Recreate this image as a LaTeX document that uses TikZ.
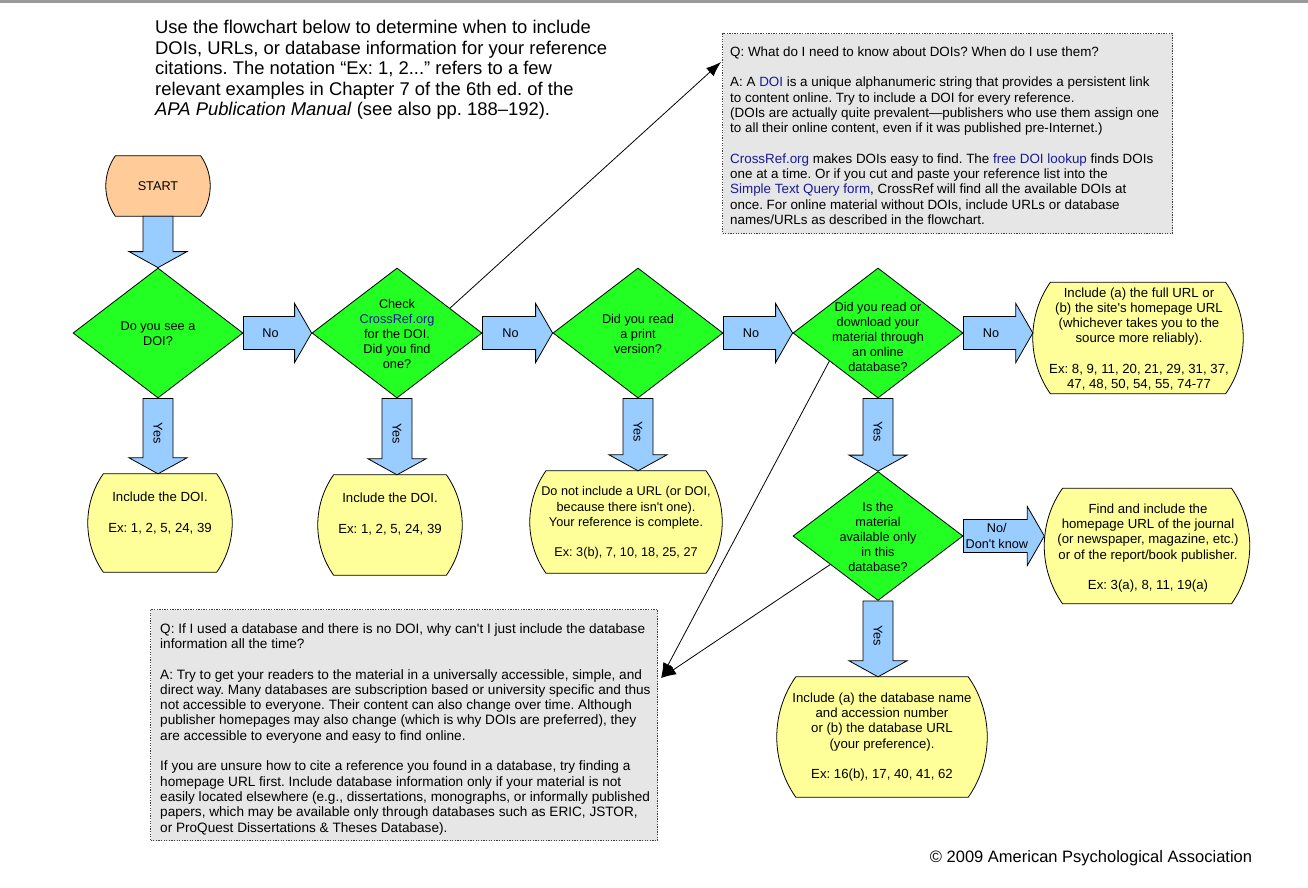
\documentclass[tikz,border=0pt]{standalone}
\usepackage{fontspec}
\setmainfont{Liberation Sans}
\usetikzlibrary{shapes.geometric,calc,arrows.meta}
\definecolor{greenD}{RGB}{35,255,35}
\definecolor{arrowblue}{RGB}{153,204,255}
\definecolor{yellowN}{RGB}{255,255,153}
\definecolor{orangeS}{RGB}{255,204,153}
\definecolor{boxgray}{RGB}{230,230,230}
\definecolor{linkblue}{RGB}{26,26,150}
\newcommand\aq{\textquotesingle}
\newcommand\lk[1]{{\color{linkblue}#1}}
\tikzset{
  dia/.style={diamond, draw=black, line width=0.8pt, fill=greenD, inner sep=0pt,
    minimum width=170pt, minimum height=130pt},
  term/.style={rectangle, draw=none, fill=none, inner sep=0pt},
  termline/.style={draw=black, line width=0.8pt, fill=yellowN},
  txt/.style={font=\fontsize{12.7}{15.2}\selectfont, align=center, inner sep=0pt},
  ytxt/.style={font=\fontsize{13.2}{15.2}\selectfont, align=center, inner sep=0pt},
  qbox/.style={draw=black!75, dash pattern=on 1.3pt off 1.3pt, line width=1.1pt,
    fill=boxgray, inner sep=0pt, anchor=north west},
  qtext/.style={align=left, inner sep=0pt, anchor=west},
  barrow/.style={fill=arrowblue, draw=black, line width=0.8pt, line join=miter},
  thinarrow/.style={draw=black, line width=0.8pt, -{Latex[length=15pt,width=11pt]}},
}
% bulging terminal outline drawn over the invisible rectangle node #1
\newcommand\TermPath[2]{%
  \path[termline,#2] let \p1=(#1.north west), \p2=(#1.south east), \n1={(\y1-\y2)/2} in
    ({\x1+0.315*\n1},\y1) -- ({\x2-0.315*\n1},\y1)
    .. controls ({\x2-0.315*\n1+0.421*\n1},{\y1-0.6*\n1}) and ({\x2-0.315*\n1+0.421*\n1},{\y2+0.6*\n1}) ..
    ({\x2-0.315*\n1},\y2) -- ({\x1+0.315*\n1},\y2)
    .. controls ({\x1+0.315*\n1-0.421*\n1},{\y2+0.6*\n1}) and ({\x1+0.315*\n1-0.421*\n1},{\y1-0.6*\n1}) ..
    ({\x1+0.315*\n1},\y1) -- cycle;
}
\newcommand\HArrow[4]{%
  \draw[barrow] let \p1=(#1), \p2=(#2) in
    (\x1,\y1+16.5pt) -- (\x2-17pt,\y1+16.5pt) -- (\x2-17pt,\y1+29.5pt) -- (\x2,\y1)
    -- (\x2-17pt,\y1-29.5pt) -- (\x2-17pt,\y1-16.5pt) -- (\x1,\y1-16.5pt) -- cycle;
  \path let \p1=(#1), \p2=(#2) in node[txt] (#4) at ({(\x1+\x2)/2-7pt},\y1) {#3};
}
\newcommand\VArrow[4]{%
  \draw[barrow] let \p1=(#1), \p2=(#2) in
    (\x1-15pt,\y1) -- (\x1-15pt,\y2+16pt) -- (\x1-29pt,\y2+16pt) -- (\x1,\y2)
    -- (\x1+29pt,\y2+16pt) -- (\x1+15pt,\y2+16pt) -- (\x1+15pt,\y1) -- cycle;
  \path let \p1=(#1), \p2=(#2) in node[txt, rotate=-90] (#4) at (\x1,{0.5*\y1+0.5*\y2+3pt}) {#3};
}
\frenchspacing
\begin{document}
\begin{tikzpicture}[x=1pt,y=-1pt]
\useasboundingbox (0,0) rectangle (1308,887);
\fill[white] (0,0) rectangle (1308,887);
\fill[black!40] (0,0) rectangle (1308,2.5);

% intro
\node[font=\fontsize{18.4}{20.4}\selectfont, align=left, inner sep=0pt, anchor=west] (intro) at (155,70)
 {Use the flowchart below to determine when to include\\
  DOIs, URLs, or database information for your reference\\
  citations. The notation “Ex: 1, 2...” refers to a few\\
  relevant examples in Chapter 7 of the 6th ed. of the\\
  \textit{APA Publication Manual} (see also pp. 188–192).};

% question boxes
\node[qbox, minimum width=450pt, minimum height=200pt] (box1) at (722,33) {};
\node[qtext, font=\fontsize{13.4}{15.3}\selectfont] (box1t) at ($(box1.west)+(8,2)$)
 {Q: What do I need to know about DOIs? When do I use them?\\[15.3pt]
  A: A \lk{DOI} is a unique alphanumeric string that provides a persistent link\\
  to content online. Try to include a DOI for every reference.\\
  (DOIs are actually quite prevalent—publishers who use them assign one\\
  to all their online content, even if it was published pre-Internet.)\\[15.3pt]
  \lk{CrossRef.org} makes DOIs easy to find. The \lk{free DOI lookup} finds DOIs\\
  one at a time. Or if you cut and paste your reference list into the\\
  \lk{Simple Text Query form}, CrossRef will find all the available DOIs at\\
  once. For online material without DOIs, include URLs or database\\
  names/URLs as described in the flowchart.};

\node[qbox, minimum width=507pt, minimum height=231pt] (box2) at (150,609) {};
\node[qtext, font=\fontsize{13.6}{15.3}\selectfont] (box2t) at ($(box2.west)+(10,4)$)
 {Q: If I used a database and there is no DOI, why can\aq t I just include the database\\
  information all the time?\\[15.3pt]
  A: Try to get your readers to the material in a universally accessible, simple, and\\
  direct way. Many databases are subscription based or university specific and thus\\
  not accessible to everyone. Their content can also change over time. Although\\
  publisher homepages may also change (which is why DOIs are preferred), they\\
  are accessible to everyone and easy to find online.\\[15.3pt]
  If you are unsure how to cite a reference you found in a database, try finding a\\
  homepage URL first. Include database information only if your material is not\\
  easily located elsewhere (e.g., dissertations, monographs, or informally published\\
  papers, which may be available only through databases such as ERIC, JSTOR,\\
  or ProQuest Dissertations \& Theses Database).};

% start
\node[term, minimum width=104pt, minimum height=60pt] (start) at (158,186) {};
\TermPath{start}{fill=orangeS}
\node[txt] (startt) at (start) {START};

% diamonds
\node[dia] (d1) at (158,333) {};
\node[dia] (d2) at (397,333) {};
\node[dia] (d3) at (638,333) {};
\node[dia] (d4) at (878,333) {};
\node[dia, minimum height=129pt] (d5) at (878,536) {};
\node[txt] (d1t) at (158,334) {Do you see a\\DOI?};
\node[txt] (d2t) at (397,334) {Check\\\lk{CrossRef.org}\\for the DOI.\\Did you find\\one?};
\node[txt] (d3t) at (638,334) {Did you read\\a print\\version?};
\node[txt] (d4t) at (878,337) {Did you read or\\download your\\material through\\an online\\database?};
\node[txt] (d5t) at (878,537) {Is the\\material\\available only\\in this\\database?};

% terminals
\node[term, minimum width=144pt, minimum height=98pt] (y1) at (160,523) {};
\node[term, minimum width=144pt, minimum height=100pt] (y2) at (390,525) {};
\node[term, minimum width=192pt, minimum height=102pt] (y3) at (626,522) {};
\node[term, minimum width=210pt, minimum height=111pt] (y4) at (1138,338) {};
\node[term, minimum width=205pt, minimum height=115pt] (y5) at (1147,546) {};
\node[term, minimum width=210pt, minimum height=120pt] (y6) at (882,737) {};
\TermPath{y1}{}
\TermPath{y2}{}
\TermPath{y3}{}
\TermPath{y4}{}
\TermPath{y5}{}
\TermPath{y6}{}
\node[ytxt] (y1t) at (160,513) {Include the DOI.\\[15.2pt]Ex: 1, 2, 5, 24, 39};
\node[ytxt] (y2t) at (390,514) {Include the DOI.\\[15.2pt]Ex: 1, 2, 5, 24, 39};
\node[txt] (y3t) at (626,523) {Do not include a URL (or DOI,\\because there isn\aq t one).\\Your reference is complete.\\[15.2pt]Ex: 3(b), 7, 10, 18, 25, 27};
\node[ytxt] (y4t) at (1139,339) {Include (a) the full URL or\\(b) the site\aq s homepage URL\\(whichever takes you to the\\source more reliably).\\[15.2pt]Ex: 8, 9, 11, 20, 21, 29, 31, 37,\\47, 48, 50, 54, 55, 74-77};
\node[ytxt] (y5t) at (1148,548) {Find and include the\\homepage URL of the journal\\(or newspaper, magazine, etc.)\\or of the report/book publisher.\\[15.2pt]Ex: 3(a), 8, 11, 19(a)};
\node[ytxt] (y6t) at (882,737) {Include (a) the database name\\and accession number\\or (b) the database URL\\(your preference).\\[15.2pt]Ex: 16(b), 17, 40, 41, 62};

% block arrows
\VArrow{start.south}{d1.north}{}{a0}
\HArrow{d1.east}{d2.west}{No}{a1}
\HArrow{d2.east}{d3.west}{No}{a2}
\HArrow{d3.east}{d4.west}{No}{a3}
\HArrow{d4.east}{y4.west}{No}{a4}
\HArrow{d5.east}{y5.west}{No/\\Don\aq t know}{a5}
\VArrow{d1.south}{y1.north}{Yes}{b1}
\VArrow{d2.south}{y2.north}{Yes}{b2}
\VArrow{d3.south}{y3.north}{Yes}{b3}
\VArrow{d4.south}{d5.north}{Yes}{b4}
\VArrow{d5.south}{y6.north}{Yes}{b5}

% thin arrows to question boxes
\coordinate (b1tip) at ($(box1.north west)+(-1,29)$);
\coordinate (b2tip) at ($(box2.north east)+(3,69)$);
\draw[thinarrow] ($(d2.north)!0.62!(d2.east)$) -- (b1tip);
\draw[thinarrow] ($(d4.west)!0.43!(d4.south)$) -- (b2tip);
\draw[thinarrow] ($(d5.west)!0.44!(d5.south)$) -- (b2tip);

% copyright
\node[font=\fontsize{16.5}{18}\selectfont, inner sep=0pt] (copy) at (1091,858) {© 2009 American Psychological Association};
\end{tikzpicture}
\end{document}
